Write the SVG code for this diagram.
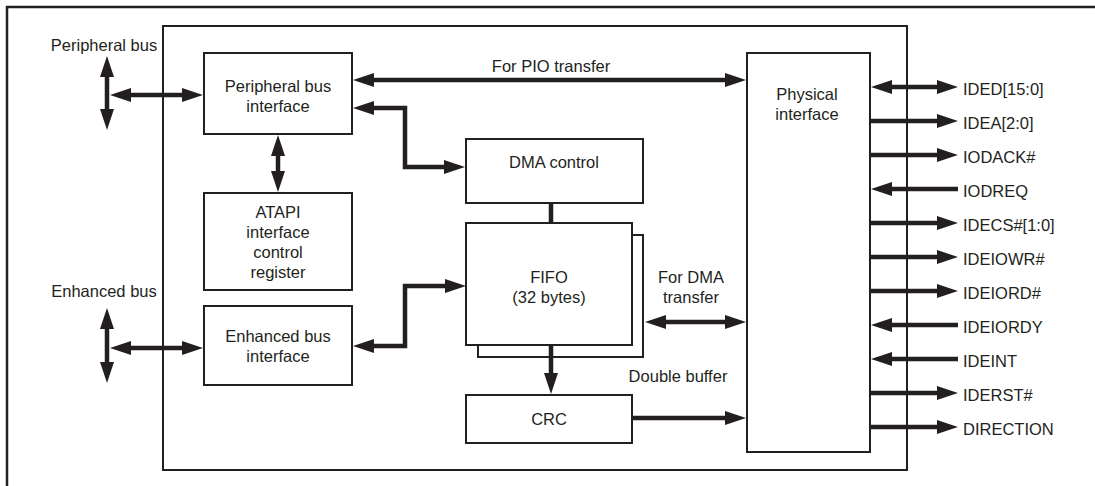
<svg xmlns="http://www.w3.org/2000/svg" width="1095" height="486" viewBox="0 0 1095 486">
<defs>
<style>
.box{fill:#fff;stroke:#231f20;stroke-width:2}
.frame{fill:none;stroke:#231f20;stroke-width:2}
text{font-family:"Liberation Sans",Arial,sans-serif;font-size:16.5px;fill:#231f20}
.c{text-anchor:middle}
.w{fill:none;stroke:#231f20;stroke-width:4.5;stroke-linejoin:miter}
.a2{marker-start:url(#ah);marker-end:url(#ah)}
.a1{marker-end:url(#ah)}
</style>
<marker id="ah" markerUnits="userSpaceOnUse" markerWidth="21" markerHeight="14" refX="11" refY="7" orient="auto-start-reverse"><path d="M0,0 L21,7 L0,14 z" fill="#231f20"/></marker>
</defs>
<rect x="0" y="0" width="1095" height="486" fill="#fff"/>
<path d="M7,486 V7 H1095" fill="none" stroke="#231f20" stroke-width="2.5"/>
<rect id="chip" class="frame" x="163" y="26" width="744" height="444"/>

<g id="peripheral-bus-label"><text class="c" x="104" y="51">Peripheral bus</text></g>
<g id="enhanced-bus-label"><text class="c" x="104" y="297">Enhanced bus</text></g>

<g id="pbi">
<rect class="box" x="204" y="53" width="148" height="81"/>
<text class="c" x="278" y="92">Peripheral bus</text>
<text class="c" x="278" y="112">interface</text>
</g>
<g id="atapi">
<rect class="box" x="204" y="193" width="148" height="97"/>
<text class="c" x="278" y="218">ATAPI</text>
<text class="c" x="278" y="238">interface</text>
<text class="c" x="278" y="258">control</text>
<text class="c" x="278" y="278">register</text>
</g>
<g id="ebi">
<rect class="box" x="204" y="306" width="148" height="79"/>
<text class="c" x="278" y="342">Enhanced bus</text>
<text class="c" x="278" y="362">interface</text>
</g>
<g id="dma">
<rect class="box" x="466" y="139" width="177" height="64"/>
<text class="c" x="554" y="168">DMA control</text>
</g>
<g id="fifo">
<rect class="box" x="478" y="235" width="165" height="122"/>
<rect class="box" x="466" y="223" width="166" height="122"/>
<text class="c" x="549" y="283">FIFO</text>
<text class="c" x="549" y="303">(32 bytes)</text>
</g>
<g id="crc">
<rect class="box" x="466" y="395" width="166" height="48"/>
<text class="c" x="549" y="425">CRC</text>
</g>
<g id="phy">
<rect class="box" x="747" y="53" width="123" height="399"/>
<text class="c" x="807" y="100">Physical</text>
<text class="c" x="807" y="120">interface</text>
</g>

<g id="connectors">
<path class="w a2" d="M107,66 V120"/>
<path class="w a2" d="M120,95 H193"/>
<path class="w a2" d="M107,318 V373"/>
<path class="w a2" d="M120,348 H193"/>
<path class="w a2" d="M278,145 V182"/>
<path class="w a2" d="M363,80 H736"/>
<path class="w a2" d="M363,108 H405 V167 H455"/>
<path class="w a2" d="M363,346 H405 V286 H456"/>
<path class="w" d="M551,203 V223"/>
<path class="w a2" d="M655,322 H736"/>
<path class="w a1" d="M551,345 V384"/>
<path class="w a1" d="M632,418 H736"/>
<path class="w a2" d="M881,87 H948"/>
<path class="w a1" d="M870,121 H948"/>
<path class="w a1" d="M870,155 H948"/>
<path class="w a1" d="M958,189 H881"/>
<path class="w a1" d="M870,223 H948"/>
<path class="w a1" d="M870,257 H948"/>
<path class="w a1" d="M870,291 H948"/>
<path class="w a1" d="M958,325 H881"/>
<path class="w a1" d="M958,359 H881"/>
<path class="w a1" d="M870,393 H948"/>
<path class="w a1" d="M870,427 H948"/>
</g>

<g id="connector-labels">
<text class="c" x="551" y="71.5">For PIO transfer</text>
<text class="c" x="691" y="283">For DMA</text>
<text class="c" x="691" y="303">transfer</text>
<text class="c" x="678" y="382">Double buffer</text>
</g>

<g id="signals">
<text x="963" y="95">IDED[15:0]</text>
<text x="963" y="129">IDEA[2:0]</text>
<text x="963" y="163">IODACK#</text>
<text x="963" y="197">IODREQ</text>
<text x="963" y="231">IDECS#[1:0]</text>
<text x="963" y="265">IDEIOWR#</text>
<text x="963" y="299">IDEIORD#</text>
<text x="963" y="333">IDEIORDY</text>
<text x="963" y="367">IDEINT</text>
<text x="963" y="401">IDERST#</text>
<text x="963" y="435">DIRECTION</text>
</g>
</svg>
